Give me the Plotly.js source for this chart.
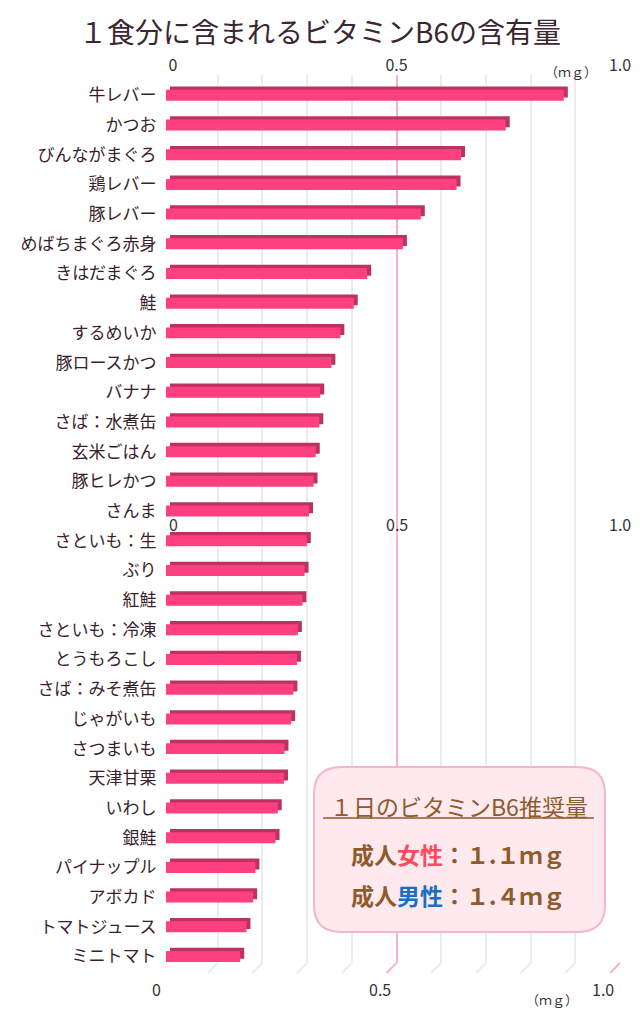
<!DOCTYPE html>
<html>
<head>
<meta charset="utf-8">
<script src="https://cdn.plot.ly/plotly-3.0.1.min.js"></script>
<style>html,body{margin:0;padding:0;background:#fff;}#chart{width:640px;height:1016px;}</style>
</head>
<body>
<div id="chart"></div>
<script>
const categories = ["牛レバー","かつお","びんながまぐろ","鶏レバー","豚レバー","めばちまぐろ赤身","きはだまぐろ","鮭","するめいか","豚ロースかつ","バナナ","さば：水煮缶","玄米ごはん","豚ヒレかつ","さんま","さといも：生","ぶり","紅鮭","さといも：冷凍","とうもろこし","さば：みそ煮缶","じゃがいも","さつまいも","天津甘栗","いわし","銀鮭","パイナップル","アボカド","トマトジュース","ミニトマト"];
const values = [0.89,0.76,0.66,0.65,0.57,0.53,0.45,0.42,0.39,0.37,0.345,0.343,0.335,0.33,0.32,0.315,0.31,0.305,0.295,0.293,0.285,0.28,0.265,0.264,0.25,0.245,0.20,0.195,0.18,0.166];
const majorTicks = [0, 0.5, 1.0];
const majorTickText = ["0", "0.5", "1.0"];
const minorTicks = [0.1,0.2,0.3,0.4,0.6,0.7,0.8,0.9];
const unitLabel = "（ｍｇ）";
const titleText = "１食分に含まれるビタミンB6の含有量";
const boxTitle = "１日のビタミンB6推奨量";
const boxLines = [
  {pre:"成人", key:"女性", post:"：１.１ｍｇ", color:"#ff4b5f"},
  {pre:"成人", key:"男性", post:"：１.４ｍｇ", color:"#1b6fc2"}
];

const W = 640, H = 1016;
const fx = p => p / W;
const fy = p => 1 - p / H;
const FONT = "'Noto Sans CJK JP', 'Noto Sans', sans-serif";
const n = categories.length;
const catRange = [n - 0.5, -0.5];

const traces = [
  {type:'scatter', x:[], y:[], xaxis:'x', yaxis:'y', showlegend:false, hoverinfo:'skip'},
  {type:'bar', orientation:'h', x:values, y:categories, xaxis:'x2', yaxis:'y2',
   width:0.37, marker:{color:'#bd3262', line:{width:0}}, hoverinfo:'skip', showlegend:false},
  {type:'bar', orientation:'h', x:values, y:categories, xaxis:'x3', yaxis:'y3',
   width:0.37, marker:{color:'#ff4080', line:{width:0}}, showlegend:false}
];

function rr(x0,y0,x1,y1,r){
  const X=fx, Y=fy;
  return `M ${X(x0+r)} ${Y(y0)} L ${X(x1-r)} ${Y(y0)} Q ${X(x1)} ${Y(y0)} ${X(x1)} ${Y(y0+r)} `+
         `L ${X(x1)} ${Y(y1-r)} Q ${X(x1)} ${Y(y1)} ${X(x1-r)} ${Y(y1)} `+
         `L ${X(x0+r)} ${Y(y1)} Q ${X(x0)} ${Y(y1)} ${X(x0)} ${Y(y1-r)} `+
         `L ${X(x0)} ${Y(y0+r)} Q ${X(x0)} ${Y(y0)} ${X(x0+r)} ${Y(y0)} Z`;
}

const gridBottom = 963;
const shapes = [];
minorTicks.forEach(v => shapes.push({type:'line', xref:'x', yref:'paper', xsizemode:'pixel', xanchor:v, x0:0, x1:-10,
  ysizemode:'pixel', yanchor:fy(gridBottom), y0:0, y1:-10, line:{color:'#ececec', width:2}, layer:'below'}));
majorTicks.forEach(v => shapes.push({type:'line', xref:'x', yref:'paper', xsizemode:'pixel', xanchor:v, x0:0, x1:-10,
  ysizemode:'pixel', yanchor:fy(gridBottom), y0:0, y1:-10, line:{color:'#f5b3c8', width:2}, layer:'below'}));
shapes.push({type:'path', xref:'paper', yref:'paper', path:rr(314,767,605,932,27),
  fillcolor:'#fde9ee', line:{color:'#f5b6c9', width:2}, layer:'above'});
shapes.push({type:'line', xref:'paper', yref:'paper', x0:fx(323), x1:fx(594), y0:fy(818), y1:fy(818),
  line:{color:'#8d5b2c', width:1.5}, layer:'above'});

const annotations = [];
majorTicks.forEach((v,i) => {
  annotations.push({xref:'x', yref:'paper', x:v, y:fy(524), text:majorTickText[i], showarrow:false,
    font:{family:FONT, size:16, color:'#333'}, xanchor:'center', yanchor:'middle'});
  annotations.push({xref:'x', yref:'paper', x:v, xshift:-17, y:fy(989), text:majorTickText[i], showarrow:false,
    font:{family:FONT, size:16, color:'#333'}, xanchor:'center', yanchor:'middle'});
});
annotations.push({xref:'paper', yref:'paper', x:fx(571), y:fy(72), text:unitLabel, showarrow:false,
  font:{family:FONT, size:13, color:'#333'}, xanchor:'center', yanchor:'middle'});
annotations.push({xref:'paper', yref:'paper', x:fx(552), y:fy(999), text:unitLabel, showarrow:false,
  font:{family:FONT, size:13, color:'#333'}, xanchor:'center', yanchor:'middle'});
annotations.push({xref:'paper', yref:'paper', x:fx(459), y:fy(806), text:boxTitle, showarrow:false,
  font:{family:FONT, size:23, color:'#8d5b2c'}, xanchor:'center', yanchor:'middle'});
boxLines.forEach((b,i) => {
  annotations.push({xref:'paper', yref:'paper', x:fx(458), y:fy(i===0?854:895),
    text:`<b>${b.pre}<span style="color:${b.color}">${b.key}</span>${b.post}</b>`, showarrow:false,
    font:{family:FONT, size:23, color:'#8d5b2c'}, xanchor:'center', yanchor:'middle'});
});

const layout = {
  width:W, height:H, margin:{l:0,r:0,t:0,b:0},
  paper_bgcolor:'#ffffff', plot_bgcolor:'rgba(0,0,0,0)',
  showlegend:false,
  title:{text:titleText, x:0.5, xanchor:'center', y:fy(33), yanchor:'middle', yref:'container',
    font:{family:FONT, size:28, color:'#3a2731'}},
  xaxis:{domain:[fx(173), fx(620)], range:[0,1], side:'top', anchor:'y',
    tickmode:'array', tickvals:majorTicks, ticktext:majorTickText, ticks:'',
    tickfont:{family:FONT, size:16, color:'#333'},
    showgrid:true, gridcolor:'#f5b3c8', gridwidth:2, zeroline:false, showline:false,
    minor:{tickmode:'linear', tick0:0, dtick:0.1, showgrid:true, gridcolor:'#ececec', gridwidth:2, ticks:''},
    fixedrange:true},
  yaxis:{domain:[fy(gridBottom), fy(75)], range:[0,1], visible:false, anchor:'x', fixedrange:true},
  xaxis2:{domain:[fx(170), fx(617)], range:[0,1], anchor:'y2', visible:false, fixedrange:true},
  yaxis2:{domain:[fy(968.05), fy(77.15)], type:'category', categoryorder:'array', categoryarray:categories,
    range:catRange, anchor:'x2', visible:false, fixedrange:true},
  xaxis3:{domain:[fx(166), fx(613)], range:[0,1], anchor:'y3', visible:false, fixedrange:true},
  yaxis3:{domain:[fy(971.35), fy(80.45)], type:'category', categoryorder:'array', categoryarray:categories,
    range:catRange, anchor:'x3', showgrid:false, zeroline:false, showline:false,
    ticks:'outside', ticklen:5, tickcolor:'rgba(0,0,0,0)',
    tickfont:{family:FONT, size:17, color:'#3a1e2c'}, fixedrange:true},
  shapes:shapes, annotations:annotations
};

Plotly.newPlot('chart', traces, layout, {displayModeBar:false, staticPlot:true});
</script>
</body>
</html>
